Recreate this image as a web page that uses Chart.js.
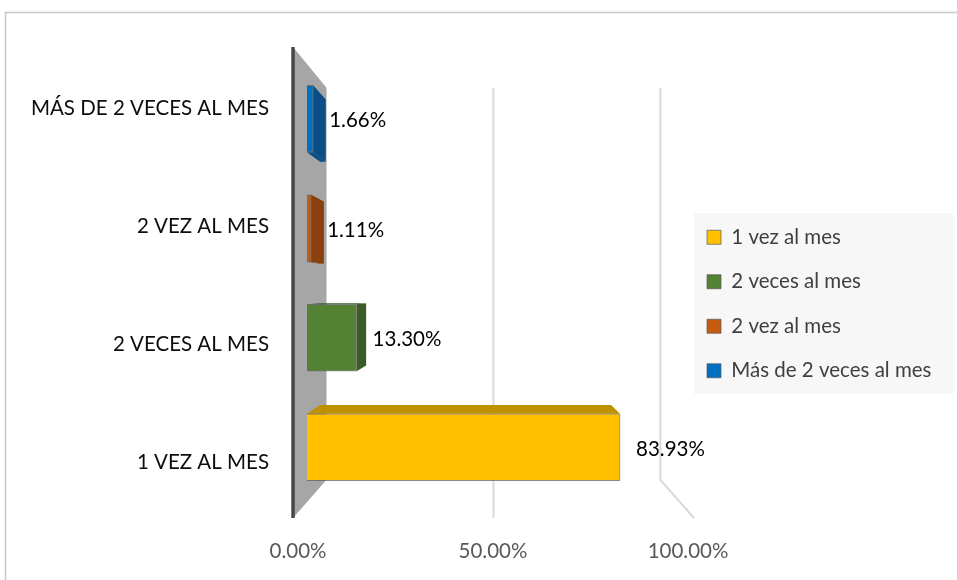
<!DOCTYPE html>
<html lang="es">
<head>
<meta charset="utf-8">
<title>Frecuencia</title>
<script src="https://cdn.jsdelivr.net/npm/chart.js@4.4.1/dist/chart.umd.min.js"></script>
<style>
  html, body { margin: 0; padding: 0; background: #fff; }
  canvas { display: block; }
</style>
</head>
<body>
<canvas id="freqChart" width="957" height="580"></canvas>
<script>
// Categories from bottom to top, one series per category
const categories = ['1 VEZ AL MES', '2 VECES AL MES', '2 VEZ AL MES', 'MÁS DE 2 VECES AL MES'];
const seriesNames = ['1 vez al mes', '2 veces al mes', '2 vez al mes', 'Más de 2 veces al mes'];
const percentages = [83.93, 13.30, 1.11, 1.66];
const axisTicks = [0, 50, 100];

const faceColors = ['#FFC000', '#548235', '#C55A11', '#0070C0'];
const depthColors = ['#BF9000', '#3B5C26', '#8A3F0C', '#0B4E86'];

const FONT = 'Lato, "Open Sans", sans-serif';
const FONT_SIZE = 20.5;
const LEGEND_PAD = 24;
const LEGEND_BOX = 14;

// fake 3D: everything is projected towards one point
const VANISH = { x: 493, y: 290 };
const K_FRONT = 1.075;   // front edge of the side wall
const K_BACK = 0.895;    // back wall
const K_BAR = 0.93;      // back face of the bars

function project(x, y, k) {
    return [VANISH.x + (x - VANISH.x) * k, VANISH.y + (y - VANISH.y) * k];
}

function fillPoly(ctx, pts, color) {
    ctx.beginPath();
    ctx.moveTo(pts[0][0], pts[0][1]);
    pts.slice(1).forEach(p => ctx.lineTo(p[0], p[1]));
    ctx.closePath();
    ctx.fillStyle = color;
    ctx.fill();
}

// right padding so the plot ends where the legend starts
const measure = document.createElement('canvas').getContext('2d');
measure.font = `${FONT_SIZE}px ${FONT}`;
const legendTextW = Math.max(...seriesNames.map(s => measure.measureText(s).width));
const legendW = LEGEND_PAD + LEGEND_BOX + FONT_SIZE / 2 + legendTextW + 10;
const padRight = Math.max(0, 957 - 683 - legendW);

const scene3d = {
    id: 'scene3d',
    beforeDraw(chart) {
        const ctx = chart.ctx;
        ctx.save();
        ctx.strokeStyle = '#c8c8c8';
        ctx.lineWidth = 1.5;
        ctx.strokeRect(5.5, 12.5, chart.width + 20, chart.height + 20);

        const lg = chart.legend;
        const hb = lg.legendHitBoxes;
        if (hb && hb.length) {
            const last = hb[hb.length - 1];
            const top = hb[0].top - 14;
            const bottom = last.top + last.height + 13;
            const left = lg.left + 11;
            ctx.fillStyle = '#f7f7f7';
            ctx.fillRect(left, top, chart.width - 4 - left, bottom - top);
        }
        ctx.restore();
    },
    beforeDatasetsDraw(chart) {
        const ctx = chart.ctx;
        const area = chart.chartArea;
        const xb = chart.scales.xb;
        const yTop = VANISH.y + (area.top - VANISH.y) / K_FRONT;
        const yBot = VANISH.y + (area.bottom - VANISH.y) / K_FRONT;
        const x0 = xb.getPixelForValue(0);
        ctx.save();

        // gridlines on the back wall and floor
        ctx.strokeStyle = '#d9d9d9';
        ctx.lineWidth = 2;
        axisTicks.filter(v => v > 0).forEach(v => {
            const xv = xb.getPixelForValue(v);
            const pts = [project(xv, yTop, K_BACK), project(xv, yBot, K_BACK), project(xv, yBot, K_FRONT)];
            ctx.beginPath();
            ctx.moveTo(pts[0][0], pts[0][1]);
            ctx.lineTo(pts[1][0], pts[1][1]);
            ctx.lineTo(pts[2][0], pts[2][1]);
            ctx.stroke();
        });

        // side wall at zero
        fillPoly(ctx, [project(x0, yTop, K_FRONT), project(x0, yTop, K_BACK),
                       project(x0, yBot, K_BACK), project(x0, yBot, K_FRONT)], '#a6a6a6');
        const fTop = project(x0, yTop, K_FRONT);
        const fBot = project(x0, yBot, K_FRONT);
        ctx.strokeStyle = '#474747';
        ctx.lineWidth = 3.5;
        ctx.beginPath();
        ctx.moveTo(fTop[0], fTop[1]);
        ctx.lineTo(fBot[0], fBot[1]);
        ctx.stroke();

        // depth faces of the bars
        chart.data.datasets.forEach((ds, i) => {
            chart.getDatasetMeta(i).data.forEach(bar => {
                const { x, y, base, height } = bar.getProps(['x', 'y', 'base', 'height'], true);
                const l = Math.min(base, x), r = Math.max(base, x);
                const t = y - height / 2, b = y + height / 2;
                const edges = [];
                if (t > VANISH.y) edges.push([[l, t], [r, t]]);
                if (b < VANISH.y) edges.push([[l, b], [r, b]]);
                if (r < VANISH.x) edges.push([[r, t], [r, b]]);
                edges.forEach(([p, q]) => {
                    fillPoly(ctx, [p, q, project(q[0], q[1], K_BAR), project(p[0], p[1], K_BAR)], depthColors[i]);
                });
            });
        });
        ctx.restore();
    },
    afterDatasetsDraw(chart) {
        const ctx = chart.ctx;
        ctx.save();
        ctx.font = `${FONT_SIZE}px ${FONT}`;
        ctx.fillStyle = '#000';
        ctx.textAlign = 'left';
        ctx.textBaseline = 'middle';
        chart.data.datasets.forEach((ds, i) => {
            chart.getDatasetMeta(i).data.forEach((bar, j) => {
                ctx.fillText(ds.data[j].x.toFixed(2) + '%', bar.x + 16, bar.y + 2);
            });
        });
        ctx.restore();
    }
};

const datasets = seriesNames.map((name, i) => ({
    label: name,
    data: [{ x: percentages[i], y: i }],
    xAxisID: 'xb',
    yAxisID: 'yb',
    backgroundColor: faceColors[i],
    borderColor: 'rgba(90,90,90,0.7)',
    borderWidth: 1,
    barThickness: 67,
    grouped: false
}));

new Chart(document.getElementById('freqChart'), {
    type: 'bar',
    data: { labels: categories, datasets },
    plugins: [scene3d],
    options: {
        indexAxis: 'y',
        responsive: false,
        animation: false,
        layout: { padding: { left: 0, top: 47, right: padRight, bottom: 19 } },
        plugins: {
            tooltip: { enabled: false },
            legend: {
                position: 'right',
                maxWidth: 400,
                labels: {
                    boxWidth: LEGEND_BOX,
                    boxHeight: LEGEND_BOX,
                    padding: LEGEND_PAD,
                    color: '#404040',
                    font: { family: FONT, size: FONT_SIZE }
                }
            }
        },
        scales: {
            x: {
                type: 'linear',
                position: 'bottom',
                min: axisTicks[0],
                max: axisTicks[axisTicks.length - 1],
                afterBuildTicks: s => { s.ticks = axisTicks.map(v => ({ value: v })); },
                afterFit: s => { s.height = 43; },
                grid: { display: false, drawTicks: false },
                border: { display: false },
                ticks: {
                    padding: 21,
                    labelOffset: 5,
                    color: '#595959',
                    font: { family: FONT, size: FONT_SIZE },
                    callback: v => v.toFixed(2) + '%'
                }
            },
            y: {
                type: 'category',
                position: 'left',
                reverse: true,
                afterFit: s => { s.width = 293; },
                grid: { display: false, drawTicks: false },
                border: { display: false },
                ticks: {
                    padding: 24,
                    labelOffset: 3,
                    color: '#0d0d0d',
                    font: { family: FONT, size: FONT_SIZE }
                }
            },
            xb: { type: 'linear', display: false, offset: false, min: -3.75, max: 100.81 },
            yb: { type: 'linear', display: false, offset: false, min: -0.646, max: 3.655 }
        }
    }
});
</script>
</body>
</html>
